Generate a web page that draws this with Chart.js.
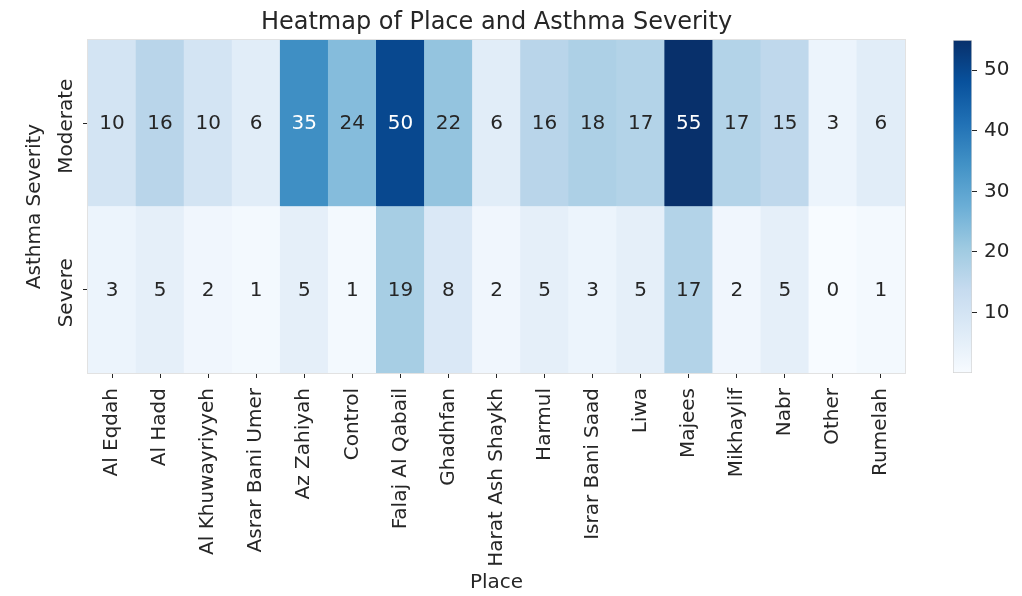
<!DOCTYPE html>
<html>
<head>
<meta charset="utf-8">
<title>Heatmap of Place and Asthma Severity</title>
<script src="https://cdn.jsdelivr.net/npm/chart.js@4.4.1/dist/chart.umd.min.js"></script>
<style>
  html, body { margin: 0; padding: 0; background: #ffffff; }
  #wrap { position: relative; width: 1022px; height: 596px; }
  #heat { position: absolute; left: 0; top: 0; }
  #cbar { position: absolute; left: 940px; top: 0; }
</style>
</head>
<body>
<div id="wrap">
  <canvas id="heat" width="1022" height="596"></canvas>
  <canvas id="cbar" width="82" height="596"></canvas>
</div>
<script>
// Places along the x axis
const places = [
  'Al Eqdah', 'Al Hadd', 'Al Khuwayriyyeh', 'Asrar Bani Umer', 'Az Zahiyah',
  'Control', 'Falaj Al Qabail', 'Ghadhfan', 'Harat Ash Shaykh', 'Harmul',
  'Israr Bani Saad', 'Liwa', 'Majees', 'Mikhaylif', 'Nabr', 'Other', 'Rumelah'
];
// Counts per place for each severity level
const moderate = [10, 16, 10, 6, 35, 24, 50, 22, 6, 16, 18, 17, 55, 17, 15, 3, 6];
const severe   = [3, 5, 2, 1, 5, 1, 19, 8, 2, 5, 3, 5, 17, 2, 5, 0, 1];
// Severity rows, listed bottom to top
const severityRows = ['Severe', 'Moderate'];
const severityCounts = [severe, moderate];
// Colour bar tick labels
const colorbarTicks = [10, 20, 30, 40, 50];

const FONT = 'DejaVu Sans';
const INK = '#262626';

// Matplotlib "Blues" colour map
const BLUES = [
  [247, 251, 255], [222, 235, 247], [198, 219, 239], [158, 202, 225],
  [107, 174, 214], [66, 146, 198], [33, 113, 181], [8, 81, 156], [8, 48, 107]
];
const allCounts = moderate.concat(severe);
const cMin = Math.min(...allCounts);
const cMax = Math.max(...allCounts);

function bluesRGB(v) {
  let t = (v - cMin) / (cMax - cMin);
  t = Math.max(0, Math.min(1, t));
  const p = t * (BLUES.length - 1);
  const i = Math.min(Math.floor(p), BLUES.length - 2);
  const f = p - i;
  const a = BLUES[i], b = BLUES[i + 1];
  return [0, 1, 2].map(k => Math.round(a[k] + (b[k] - a[k]) * f));
}
function rgbStr(c) { return 'rgb(' + c[0] + ',' + c[1] + ',' + c[2] + ')'; }
function blues(v) { return rgbStr(bluesRGB(v)); }
function luminance(c) {
  const lin = c.map(x => {
    x /= 255;
    return x <= 0.03928 ? x / 12.92 : Math.pow((x + 0.055) / 1.055, 2.4);
  });
  return 0.2126 * lin[0] + 0.7152 * lin[1] + 0.0722 * lin[2];
}

// Cell annotations, rotated row labels and a faint frame
const heatText = {
  id: 'heatText',
  afterDatasetsDraw(chart) {
    const ctx = chart.ctx;
    const area = chart.chartArea;
    ctx.save();
    ctx.strokeStyle = '#e2e2e2';
    ctx.lineWidth = 1;
    ctx.strokeRect(area.left - 0.5, area.top - 0.5, area.right - area.left + 1, area.bottom - area.top + 1);

    ctx.font = '20px "' + FONT + '"';
    ctx.textAlign = 'center';
    ctx.textBaseline = 'middle';
    chart.data.datasets.forEach((ds, di) => {
      const meta = chart.getDatasetMeta(di);
      meta.data.forEach((bar, i) => {
        const v = ds.counts[i];
        const col = bluesRGB(v);
        ctx.fillStyle = luminance(col) > 0.408 ? INK : '#ffffff';
        ctx.fillText(String(v), bar.x, (bar.y + bar.base) / 2 + 1);
      });
    });

    const ys = chart.scales.y;
    ctx.fillStyle = INK;
    ctx.textAlign = 'center';
    ctx.textBaseline = 'alphabetic';
    ys.ticks.forEach((t, i) => {
      const y = ys.getPixelForValue(t.value);
      ctx.save();
      ctx.translate(ys.right - 16, y + 3);
      ctx.rotate(-Math.PI / 2);
      ctx.fillText(severityRows[i], 0, 0);
      ctx.restore();
    });
    ctx.restore();
  }
};

new Chart(document.getElementById('heat'), {
  type: 'bar',
  data: {
    labels: places,
    datasets: severityCounts.map((vals, r) => ({
      label: severityRows[r],
      counts: vals,
      data: vals.map(() => [r, r + 1]),
      backgroundColor: c => blues(vals[c.dataIndex]),
      borderWidth: 0,
      barPercentage: 1,
      categoryPercentage: 1,
      grouped: false
    }))
  },
  options: {
    responsive: false,
    animation: false,
    events: [],
    layout: { padding: { left: 0, right: 117, top: 0, bottom: 0 } },
    plugins: {
      legend: { display: false },
      tooltip: { enabled: false },
      title: {
        display: true,
        fullSize: false,
        text: 'Heatmap of Place and Asthma Severity',
        color: INK,
        font: { family: FONT, size: 24, weight: 'normal' },
        padding: { top: 8, bottom: 3.2 }
      }
    },
    scales: {
      x: {
        type: 'category',
        offset: true,
        border: { display: false },
        grid: {
          offset: false,
          drawOnChartArea: false,
          drawTicks: true,
          tickLength: 5,
          tickColor: INK,
          tickWidth: 1
        },
        ticks: {
          autoSkip: false,
          minRotation: 90,
          maxRotation: 90,
          padding: 10,
          color: INK,
          font: { family: FONT, size: 20 }
        },
        title: {
          display: true,
          text: 'Place',
          color: INK,
          font: { family: FONT, size: 20 },
          padding: { top: 0, bottom: 1 }
        },
        afterFit: s => { s.height = 223; }
      },
      y: {
        type: 'linear',
        min: 0,
        max: severityRows.length,
        afterBuildTicks: s => { s.ticks = severityRows.map((_, i) => ({ value: i + 0.5 })); },
        border: { display: false },
        grid: {
          drawOnChartArea: false,
          drawTicks: true,
          tickLength: 5,
          tickColor: INK,
          tickWidth: 1
        },
        ticks: { display: false },
        title: {
          display: true,
          text: 'Asthma Severity',
          color: INK,
          font: { family: FONT, size: 20 },
          padding: { top: 23, bottom: 0 }
        },
        afterFit: s => { s.width = 88; }
      }
    }
  },
  plugins: [heatText]
});

// Colour bar
new Chart(document.getElementById('cbar'), {
  type: 'bar',
  data: {
    labels: [''],
    datasets: [{
      data: [[cMin, cMax]],
      backgroundColor: c => {
        const chart = c.chart;
        const ys = chart.scales && chart.scales.y;
        if (!chart.chartArea || !ys) return blues(cMax);
        const g = chart.ctx.createLinearGradient(0, ys.getPixelForValue(cMin), 0, ys.getPixelForValue(cMax));
        BLUES.forEach((col, i) => g.addColorStop(i / (BLUES.length - 1), rgbStr(col)));
        return g;
      },
      borderColor: '#d4d4d4',
      borderWidth: 1,
      borderSkipped: false,
      barPercentage: 1,
      categoryPercentage: 1
    }]
  },
  options: {
    responsive: false,
    animation: false,
    events: [],
    layout: { padding: { left: 13, right: 0, top: 40, bottom: 223 } },
    plugins: { legend: { display: false }, tooltip: { enabled: false } },
    scales: {
      x: { display: false },
      y: {
        position: 'right',
        min: cMin,
        max: cMax,
        afterBuildTicks: s => { s.ticks = colorbarTicks.map(v => ({ value: v })); },
        border: { display: false },
        grid: {
          drawOnChartArea: false,
          drawTicks: true,
          tickLength: 5,
          tickColor: INK,
          tickWidth: 1
        },
        ticks: {
          padding: 7,
          color: INK,
          font: { family: FONT, size: 20 }
        },
        afterFit: s => { s.width = 50; }
      }
    }
  }
});
</script>
</body>
</html>
